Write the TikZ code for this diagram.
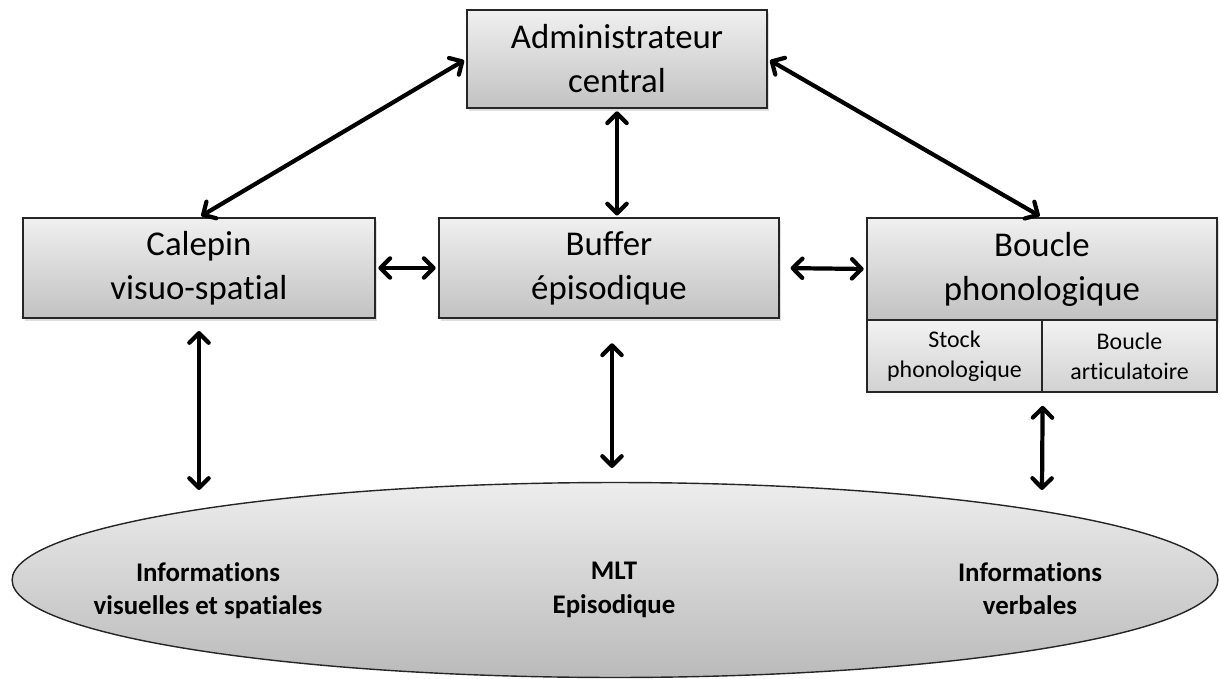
\documentclass[tikz,border=0pt]{standalone}
\usepackage{fontspec}
\setmainfont{Carlito}[RawFeature={-liga,-clig,-dlig,-rlig,-calt}]
\usetikzlibrary{arrows.meta,shadows,shapes.geometric}

\begin{document}
\begin{tikzpicture}[x=0.02cm,y=-0.02cm,
  box/.style={draw=black!85, line width=0.8pt, rectangle, inner sep=0pt,
    align=center, top color=black!6, bottom color=black!24,
    drop shadow={opacity=0.25, shadow xshift=1.2pt, shadow yshift=-1.6pt},
    font=\fontsize{19.8}{25}\selectfont},
  subbox/.style={draw=black!85, line width=0.8pt, rectangle, inner sep=0pt,
    align=center, top color=black!5, bottom color=black!18,
    minimum width=3.5cm, minimum height=1.44cm,
    font=\fontsize{13.6}{17}\selectfont},
  ltm/.style={draw=black!85, line width=0.8pt, ellipse, inner sep=0pt,
    top color=black!7, bottom color=black!27,
    minimum width=24.12cm, minimum height=3.9cm},
  ltmtext/.style={align=center, inner sep=0pt, anchor=north,
    font=\bfseries\fontsize{15.3}{19}\selectfont},
  link/.style={{Straight Barb[length=5.5pt,width=11pt,line cap=round,line join=round]}-{Straight Barb[length=5.5pt,width=11pt,line cap=round,line join=round]},
    line width=2.4pt, black}
]
\useasboundingbox (0,0) rectangle (1221,679);

% long-term memory
\node[ltm] (mlt) at (615,580) {};
\node[ltmtext] (visinfo) at (208,562) {Informations\\visuelles et spatiales};
\node[ltmtext] (episo) at (614,562) {MLT\\Episodique};
\node[ltmtext] (verbinfo) at (1030,562) {Informations\\verbales};

% working memory components
\node[box, minimum width=6cm, minimum height=1.96cm] (admin) at (617,59) {Administrateur\\central};
\node[box, minimum width=7.04cm, minimum height=2cm] (calepin) at (199,268) {Calepin\\visuo-spatial};
\node[box, minimum width=6.8cm, minimum height=2cm] (buffer) at (609,268) {Buffer\\épisodique};
\node[box, minimum width=7cm, minimum height=2.04cm] (boucle) at (1042,269) {Boucle\\phonologique};
\node[subbox] (stock) at (954.5,356) {Stock\\phonologique};
\node[subbox] (artic) at (1129.5,356) {Boucle\\articulatoire};

% free ends above the ellipse
\coordinate (calepinIn) at (199,490);
\coordinate (bufferIn) at (612,468);
\coordinate (boucleIn) at (1042,490);

% connectors
\draw[link, shorten <=1.5pt, shorten >=1.5pt] (admin.west) -- (calepin.north);
\draw[link, shorten <=1.5pt, shorten >=1.5pt] (admin.east) -- (boucle.north);
\draw[link, shorten <=1.5pt, shorten >=1pt] (admin.south) -- (admin.south |- buffer.north);
\draw[link, shorten <=1.5pt, shorten >=1.5pt] (calepin.east) -- (buffer.west);
\draw[link, shorten <=6.2pt, shorten >=1.5pt] (buffer.east) -- (boucle.west);
\draw[link, shorten <=7pt] (calepin.south) -- (calepinIn);
\draw[link, shorten <=14pt] (buffer.south -| bufferIn) -- (bufferIn);
\draw[link, shorten <=7.5pt] (stock.south east) -- (boucleIn);
\end{tikzpicture}
\end{document}
